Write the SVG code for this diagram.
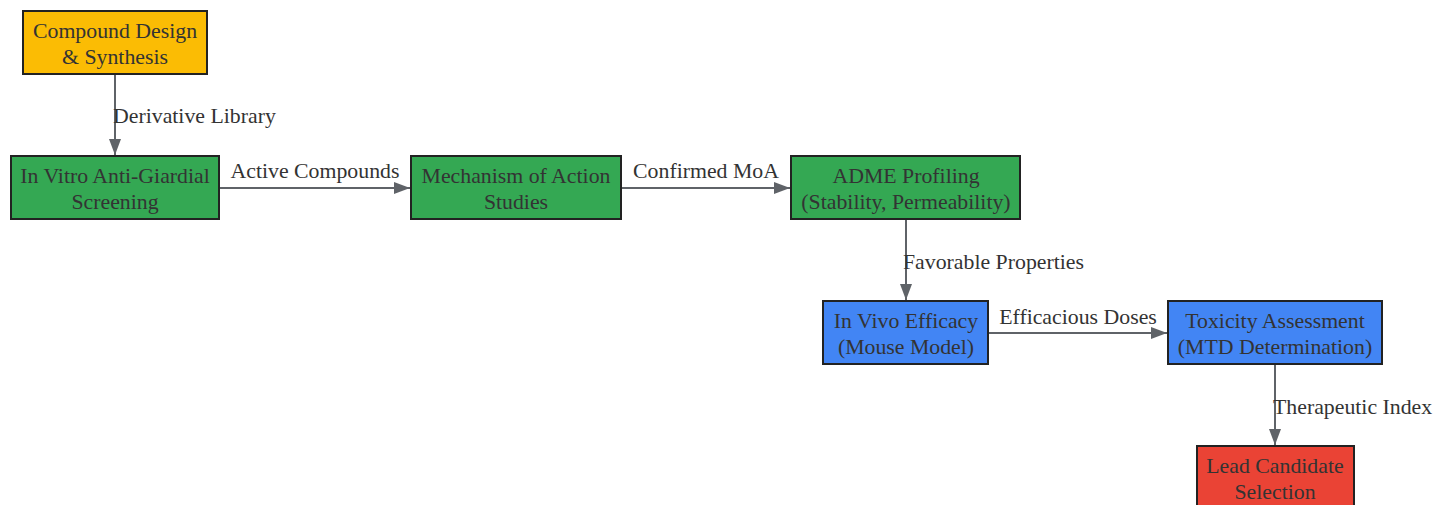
<svg xmlns="http://www.w3.org/2000/svg" width="1433" height="505" viewBox="0 0 1433 505">
<style>
.n{stroke:#222;stroke-width:2}
.t{font-family:"Liberation Serif",serif;font-size:21.8px;fill:#333;text-anchor:middle}
.l{font-family:"Liberation Serif",serif;font-size:21.8px;fill:#333}
.e{stroke:#5f6368;stroke-width:2;fill:none;marker-end:url(#a)}
</style>
<defs>
<marker id="a" viewBox="0 0 16 12" refX="16" refY="6" markerWidth="16" markerHeight="12" markerUnits="userSpaceOnUse" orient="auto">
<path d="M0,0 L16,6 L0,12 z" fill="#5f6368"/>
</marker>
</defs>
<rect width="1433" height="505" fill="#fff"/>
<g id="edges">
<line class="e" x1="115" y1="74" x2="115" y2="155"/>
<line class="e" x1="219" y1="188" x2="410" y2="188"/>
<line class="e" x1="621" y1="188" x2="790" y2="188"/>
<line class="e" x1="906" y1="219" x2="906" y2="300"/>
<line class="e" x1="988" y1="333" x2="1167" y2="333"/>
<line class="e" x1="1275" y1="364" x2="1275" y2="445"/>
<text class="l" x="113" y="123">Derivative Library</text>
<text class="t" x="315" y="178">Active Compounds</text>
<text class="t" x="706" y="178">Confirmed MoA</text>
<text class="l" x="903" y="269">Favorable Properties</text>
<text class="t" x="1078" y="324">Efficacious Doses</text>
<text class="l" x="1273" y="414">Therapeutic Index</text>
</g>
<g id="n1"><rect class="n" x="23" y="11" width="184" height="63" fill="#fbbc04"/><text class="t" x="115" y="38">Compound Design</text><text class="t" x="115" y="64">&amp; Synthesis</text></g>
<g id="n2"><rect class="n" x="11" y="156" width="208" height="63" fill="#34a853"/><text class="t" x="115" y="183">In Vitro Anti-Giardial</text><text class="t" x="115" y="209">Screening</text></g>
<g id="n3"><rect class="n" x="411" y="156" width="210" height="63" fill="#34a853"/><text class="t" x="516" y="183">Mechanism of Action</text><text class="t" x="516" y="209">Studies</text></g>
<g id="n4"><rect class="n" x="791" y="156" width="229" height="63" fill="#34a853"/><text class="t" x="906" y="183">ADME Profiling</text><text class="t" x="906" y="209">(Stability, Permeability)</text></g>
<g id="n5"><rect class="n" x="823" y="301" width="165" height="63" fill="#4285f4"/><text class="t" x="906" y="328">In Vivo Efficacy</text><text class="t" x="906" y="354">(Mouse Model)</text></g>
<g id="n6"><rect class="n" x="1168" y="301" width="214" height="63" fill="#4285f4"/><text class="t" x="1275" y="328">Toxicity Assessment</text><text class="t" x="1275" y="354">(MTD Determination)</text></g>
<g id="n7"><rect class="n" x="1197" y="446" width="157" height="63" fill="#ea4335"/><text class="t" x="1275" y="473">Lead Candidate</text><text class="t" x="1275" y="499">Selection</text></g>
</svg>
